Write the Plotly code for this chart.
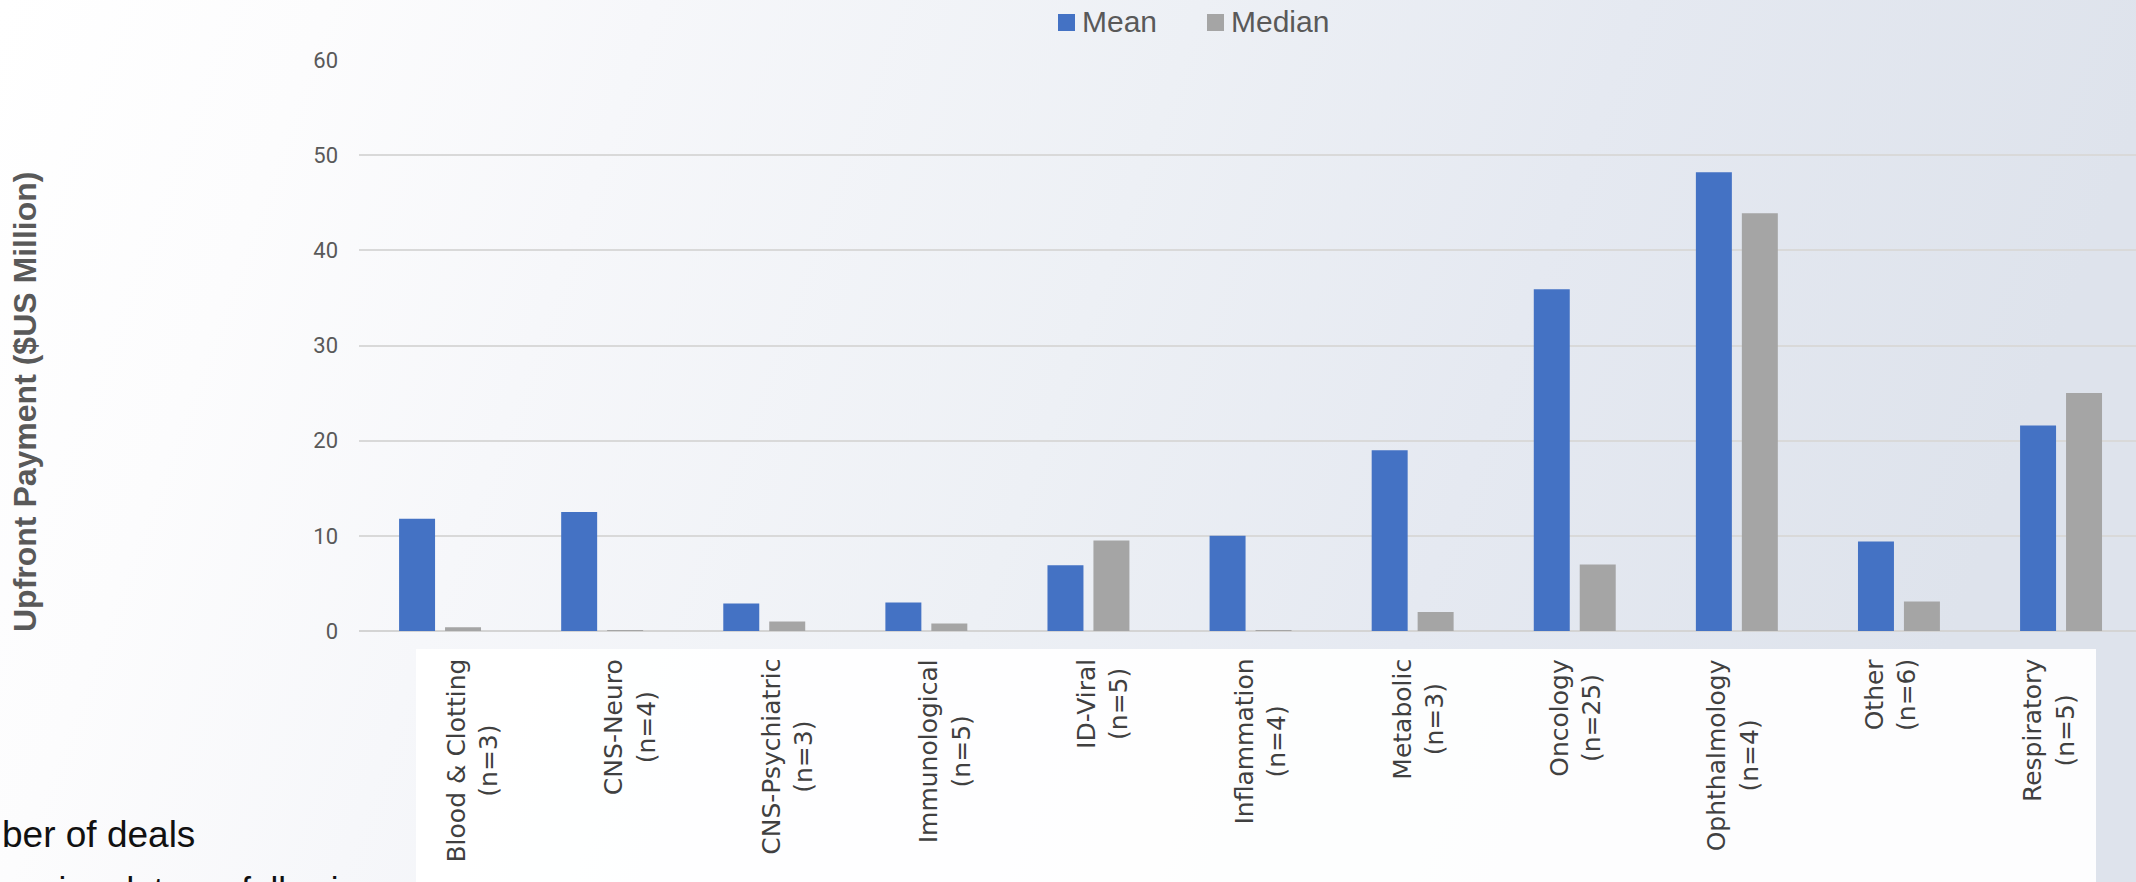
import base64
import plotly.graph_objects as go

categories = ["Blood & Clotting", "CNS-Neuro", "CNS-Psychiatric", "Immunological", "ID-Viral",
              "Inflammation", "Metabolic", "Oncology", "Ophthalmology", "Other", "Respiratory"]
deal_counts = [3, 4, 3, 5, 5, 4, 3, 25, 4, 6, 5]
mean_values = [11.8, 12.5, 2.9, 3.0, 6.9, 10.0, 19.0, 35.9, 48.2, 9.4, 21.6]
median_values = [0.4, 0.05, 1.0, 0.8, 9.5, 0.1, 2.0, 7.0, 43.9, 3.1, 25.0]
y_ticks = [0, 10, 20, 30, 40, 50, 60]
series_names = ["Mean", "Median"]

W, H = 2136, 882
BLUE = "#4472C4"
GRAY = "#A5A5A5"
TXT = "#595959"
colors = [BLUE, GRAY]

# gradient page background as inline SVG
svg = f'''<svg xmlns="http://www.w3.org/2000/svg" width="{W}" height="{H}" viewBox="0 0 {W} {H}" preserveAspectRatio="none">
<defs><linearGradient id="g" x1="0" y1="0" x2="1" y2="0.15">
<stop offset="0" stop-color="#ffffff"/>
<stop offset="0.15" stop-color="#fcfcfd"/>
<stop offset="0.3" stop-color="#f6f7fa"/>
<stop offset="0.55" stop-color="#edf0f5"/>
<stop offset="0.75" stop-color="#e5e9f1"/>
<stop offset="1" stop-color="#dee3ec"/>
</linearGradient></defs>
<rect x="0" y="0" width="{W}" height="{H}" fill="url(#g)"/>
</svg>'''
bg_src = "data:image/svg+xml;base64," + base64.b64encode(svg.encode()).decode()

fig = go.Figure()
for name, vals, col in zip(series_names, [mean_values, median_values], colors):
    fig.add_trace(go.Bar(name=name, x=categories, y=vals, marker=dict(color=col, line=dict(width=0)),
                         showlegend=False))

x0_px = 359
band_px = 162.1
units = (W - x0_px) / band_px

annotations = []
# category labels (pasted image in original; slightly different spacing)
for i, (c, n) in enumerate(zip(categories, deal_counts)):
    annotations.append(dict(
        x=c, xref="x", y=1 - 657 / H, yref="paper",
        text=f"{c}<br>(n={n})", textangle=-90, showarrow=False,
        xanchor="center", yanchor="top", align="center",
        xshift=32.5 - 4.5 * i,
        font=dict(family="DejaVu Sans", size=25, color="#404040"),
    ))

annotations.append(dict(
    x=25 / W, y=1 - 402 / H, xref="paper", yref="paper",
    text="<b>Upfront Payment ($US Million)</b>", textangle=-90, showarrow=False,
    xanchor="center", yanchor="middle",
    font=dict(family="Liberation Sans", size=32, color=TXT),
))
annotations.append(dict(
    x=0, y=1 - 834 / H, xref="paper", yref="paper",
    text="ber of deals", showarrow=False, xanchor="left", yanchor="middle",
    font=dict(family="Liberation Sans", size=37, color="#111111"),
))
annotations.append(dict(
    x=0, y=1 - 889 / H, xref="paper", yref="paper",
    text="anying data on following page", showarrow=False, xanchor="left", yanchor="middle",
    font=dict(family="Liberation Sans", size=35, color="#111111"),
))

shapes = [
    dict(type="rect", xref="paper", yref="paper", x0=416 / W, x1=2096 / W, y0=0, y1=1 - 649 / H,
         fillcolor="#ffffff", line=dict(width=0), layer="below", opacity=0.92),
]

# manual legend
legend_sq_x = [1058, 1207]
for name, col, sx in zip(series_names, colors, legend_sq_x):
    shapes.append(dict(type="rect", xref="paper", yref="paper",
                       x0=sx / W, x1=(sx + 17) / W, y0=1 - 31 / H, y1=1 - 14 / H,
                       fillcolor=col, line=dict(width=0)))
    annotations.append(dict(x=(sx + 22) / W, y=1 - 22 / H, xref="paper", yref="paper",
                            text=name, showarrow=False, xanchor="left", yanchor="middle",
                            font=dict(family="Liberation Sans", size=30, color=TXT)))

fig.update_layout(
    width=W, height=H,
    margin=dict(l=0, r=0, t=0, b=0),
    paper_bgcolor="#ffffff",
    plot_bgcolor="rgba(0,0,0,0)",
    barmode="group", bargap=0.433, bargroupgap=0.217,
    images=[dict(source=bg_src, xref="paper", yref="paper", x=0, y=1, sizex=1, sizey=1,
                 xanchor="left", yanchor="top", sizing="stretch", layer="below")],
    shapes=shapes,
    annotations=annotations,
    showlegend=False,
    xaxis=dict(domain=[x0_px / W, 1], range=[-0.5, -0.5 + units], showticklabels=False,
               showgrid=False, showline=False, zeroline=False, ticks=""),
    yaxis=dict(domain=[1 - 631 / H, 1 - 60 / H], range=[0, 60], tickvals=y_ticks,
               showgrid=True, gridcolor="#d9d9d9", gridwidth=2, zeroline=True,
               zerolinecolor="#d4d4d4", zerolinewidth=2, showline=False, ticks="",
               ticklabelstandoff=20, automargin=False,
               tickfont=dict(family="Roboto", size=22, color=TXT)),
)

fig.write_html("out.html")
